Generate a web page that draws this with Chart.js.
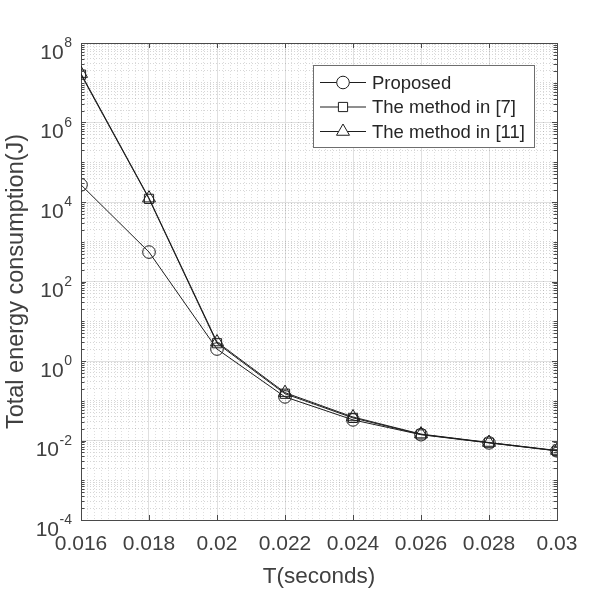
<!DOCTYPE html>
<html>
<head>
    <title>Total energy consumption</title>
    <script src="https://cdn.jsdelivr.net/npm/chart.js@4/dist/chart.umd.min.js"></script>
    <style>
        html, body { margin: 0; padding: 0; background: #fff; }
        #wrap { width: 615px; height: 594px; }
    </style>
</head>
<body>
    <div id="wrap"><canvas id="myChart" width="615" height="594"></canvas></div>

    <script>
        // values
        var periods = [0.016, 0.018, 0.020, 0.022, 0.024, 0.026, 0.028, 0.030];
        var proposed = [2.7e4, 550, 2.0, 0.125, 0.033, 0.0140, 0.0087, 0.0055];
        var method7 = [1.6e7, 1.2e4, 2.8, 0.150, 0.037, 0.0142, 0.0088, 0.0055];
        var method11 = [1.7e7, 1.25e4, 3.0, 0.160, 0.039, 0.0145, 0.0089, 0.0056];
        var seriesNames = ['Proposed', 'The method in [7]', 'The method in [11]'];

        var xTicks = [0.016, 0.018, 0.020, 0.022, 0.024, 0.026, 0.028, 0.030];
        var yTicks = [1e-4, 1e-2, 1, 1e2, 1e4, 1e6, 1e8];

        var textColor = '#404040';
        var axisColor = '#4a4a4a';
        var lineColor = '#1e1e1e';
        var fontFam = 'Arial, "Liberation Sans", sans-serif';

        function toPoints(vals) {
            return periods.map(function (t, i) { return { x: t, y: vals[i] }; });
        }

        // minor grid positions: 0.0002 steps on x, 2..9 x 10^n on y
        var xMinor = [];
        for (var k = 80; k <= 150; k++) {
            if (k % 10 !== 0) xMinor.push(k / 5000);
        }
        var yMinor = [];
        for (var e = -4; e < 8; e++) {
            for (var m = 1; m <= 9; m++) {
                if (m === 1 && e % 2 === 0) continue;
                yMinor.push(m * Math.pow(10, e));
            }
        }

        function makeSet(label, vals, style, radius) {
            return {
                label: label,
                data: toPoints(vals),
                borderColor: lineColor,
                borderWidth: 1,
                pointStyle: style,
                pointRadius: radius,
                pointHoverRadius: radius,
                pointBorderColor: lineColor,
                pointBorderWidth: 1,
                pointBackgroundColor: 'rgba(0,0,0,0)',
                tension: 0,
                fill: false
            };
        }

        // power-of-ten labels with a raised exponent, plus inward tick marks
        var logLabels = {
            id: 'logLabels',
            afterDraw: function (chart) {
                var ctx = chart.ctx;
                var area = chart.chartArea;
                var ys = chart.scales.y;
                var xs = chart.scales.x;
                ctx.save();
                ctx.strokeStyle = axisColor;
                ctx.lineWidth = 1;
                ctx.beginPath();
                yTicks.concat(yMinor).forEach(function (v) {
                    var py = Math.round(ys.getPixelForValue(v)) + 0.5;
                    var len = yTicks.indexOf(v) >= 0 ? 5 : 3.5;
                    ctx.moveTo(area.left, py);
                    ctx.lineTo(area.left + len, py);
                    ctx.moveTo(area.right, py);
                    ctx.lineTo(area.right - len, py);
                });
                xTicks.forEach(function (v) {
                    var px = Math.round(xs.getPixelForValue(v)) + 0.5;
                    ctx.moveTo(px, area.bottom);
                    ctx.lineTo(px, area.bottom - 5);
                    ctx.moveTo(px, area.top);
                    ctx.lineTo(px, area.top + 5);
                });
                ctx.stroke();

                ctx.fillStyle = textColor;
                ctx.textBaseline = 'alphabetic';
                yTicks.forEach(function (v) {
                    var py = ys.getPixelForValue(v);
                    var expo = String(Math.round(Math.log10(v)));
                    var right = area.left - 9;
                    ctx.font = '14px ' + fontFam;
                    ctx.textAlign = 'right';
                    ctx.fillText(expo, right, py + 4);
                    var ew = ctx.measureText(expo).width;
                    ctx.font = '21px ' + fontFam;
                    ctx.fillText('10', right - ew - 0.5, py + 15.5);
                });
                ctx.restore();
            }
        };

        // legend box drawn inside the plot area, MATLAB style
        var boxLegend = {
            id: 'boxLegend',
            afterDraw: function (chart) {
                var ctx = chart.ctx;
                var area = chart.chartArea;
                var w = 222, h = 83;
                var x0 = area.right - 22 - w, y0 = area.top + 22;
                ctx.save();
                ctx.fillStyle = '#fff';
                ctx.fillRect(x0, y0, w, h);
                ctx.strokeStyle = '#6e6e6e';
                ctx.lineWidth = 1;
                ctx.strokeRect(x0 + 0.5, y0 + 0.5, w - 1, h - 1);
                ctx.font = '18.5px ' + fontFam;
                ctx.textBaseline = 'middle';
                chart.data.datasets.forEach(function (ds, i) {
                    var cy = y0 + 17.5 + i * 24.5;
                    var cx = x0 + 30;
                    ctx.strokeStyle = ds.borderColor;
                    ctx.lineWidth = 1;
                    ctx.beginPath();
                    ctx.moveTo(x0 + 7, cy);
                    ctx.lineTo(x0 + 53, cy);
                    ctx.stroke();
                    ctx.fillStyle = '#fff';
                    var r = ds.pointRadius;
                    ctx.beginPath();
                    if (ds.pointStyle === 'circle') {
                        ctx.arc(cx, cy, r, 0, Math.PI * 2);
                    } else if (ds.pointStyle === 'rect') {
                        var s = Math.SQRT1_2 * r;
                        ctx.rect(cx - s, cy - s, 2 * s, 2 * s);
                    } else {
                        var a = 0;
                        ctx.moveTo(cx + Math.sin(a) * r, cy - Math.cos(a) * r);
                        a += Math.PI * 2 / 3;
                        ctx.lineTo(cx + Math.sin(a) * r, cy - Math.cos(a) * r);
                        a += Math.PI * 2 / 3;
                        ctx.lineTo(cx + Math.sin(a) * r, cy - Math.cos(a) * r);
                        ctx.closePath();
                    }
                    ctx.fill();
                    ctx.stroke();
                    ctx.fillStyle = '#262626';
                    ctx.fillText(ds.label, x0 + 59, cy + 1);
                });
                ctx.restore();
            }
        };

        var config = {
            type: 'line',
            data: {
                datasets: [
                    makeSet(seriesNames[0], proposed, 'circle', 6.3),
                    makeSet(seriesNames[1], method7, 'rect', 6.5),
                    makeSet(seriesNames[2], method11, 'triangle', 7.5)
                ]
            },
            options: {
                responsive: false,
                animation: false,
                layout: { padding: 0 },
                plugins: {
                    legend: { display: false },
                    tooltip: { enabled: false }
                },
                scales: {
                    x: {
                        type: 'linear',
                        position: 'bottom',
                        min: 0.016,
                        max: 0.03,
                        afterBuildTicks: function (scale) {
                            scale.ticks = xTicks.map(function (v) { return { value: v }; });
                        },
                        afterFit: function (scale) { scale.height = 74; },
                        grid: { color: '#e0e0e0', lineWidth: 1, drawTicks: false },
                        border: { display: true, color: axisColor, width: 1 },
                        ticks: {
                            autoSkip: false,
                            maxRotation: 0,
                            padding: 12,
                            color: textColor,
                            font: { family: fontFam, size: 21 },
                            callback: function (v) { return String(Number(v.toFixed(3))); }
                        },
                        title: {
                            display: true,
                            text: 'T(seconds)',
                            color: textColor,
                            font: { family: fontFam, size: 22.5 },
                            padding: { top: 0, bottom: 4 }
                        }
                    },
                    y: {
                        type: 'logarithmic',
                        position: 'left',
                        min: 1e-4,
                        max: 1e8,
                        afterBuildTicks: function (scale) {
                            scale.ticks = yTicks.map(function (v) { return { value: v }; });
                        },
                        afterFit: function (scale) { scale.width = 81; },
                        grid: { color: '#e0e0e0', lineWidth: 1, drawTicks: false },
                        border: { display: true, color: axisColor, width: 1 },
                        ticks: { display: false, autoSkip: false },
                        title: {
                            display: true,
                            text: 'Total energy consumption(J)',
                            color: textColor,
                            font: { family: fontFam, size: 23.5 },
                            padding: { top: 2, bottom: 0 }
                        }
                    },
                    xMinor: {
                        type: 'linear',
                        position: 'top',
                        z: -1,
                        min: 0.016,
                        max: 0.03,
                        afterBuildTicks: function (scale) {
                            scale.ticks = xMinor.map(function (v) { return { value: v }; });
                        },
                        afterFit: function (scale) { scale.height = 43; },
                        grid: { color: 'rgba(0,0,0,0.13)', lineWidth: 1, drawTicks: false },
                        border: { display: true, color: axisColor, width: 1, dash: [1, 2] },
                        ticks: { display: false, autoSkip: false }
                    },
                    yMinor: {
                        type: 'logarithmic',
                        position: 'right',
                        z: -1,
                        min: 1e-4,
                        max: 1e8,
                        afterBuildTicks: function (scale) {
                            scale.ticks = yMinor.map(function (v) { return { value: v }; });
                        },
                        afterFit: function (scale) { scale.width = 58; },
                        grid: { color: 'rgba(0,0,0,0.16)', lineWidth: 1, drawTicks: false },
                        border: { display: true, color: axisColor, width: 1, dash: [1, 2] },
                        ticks: { display: false, autoSkip: false }
                    }
                }
            },
            plugins: [logLabels, boxLegend]
        };

        var ctx = document.getElementById('myChart').getContext('2d');
        var chart = new Chart(ctx, config);
    </script>
</body>
</html>
